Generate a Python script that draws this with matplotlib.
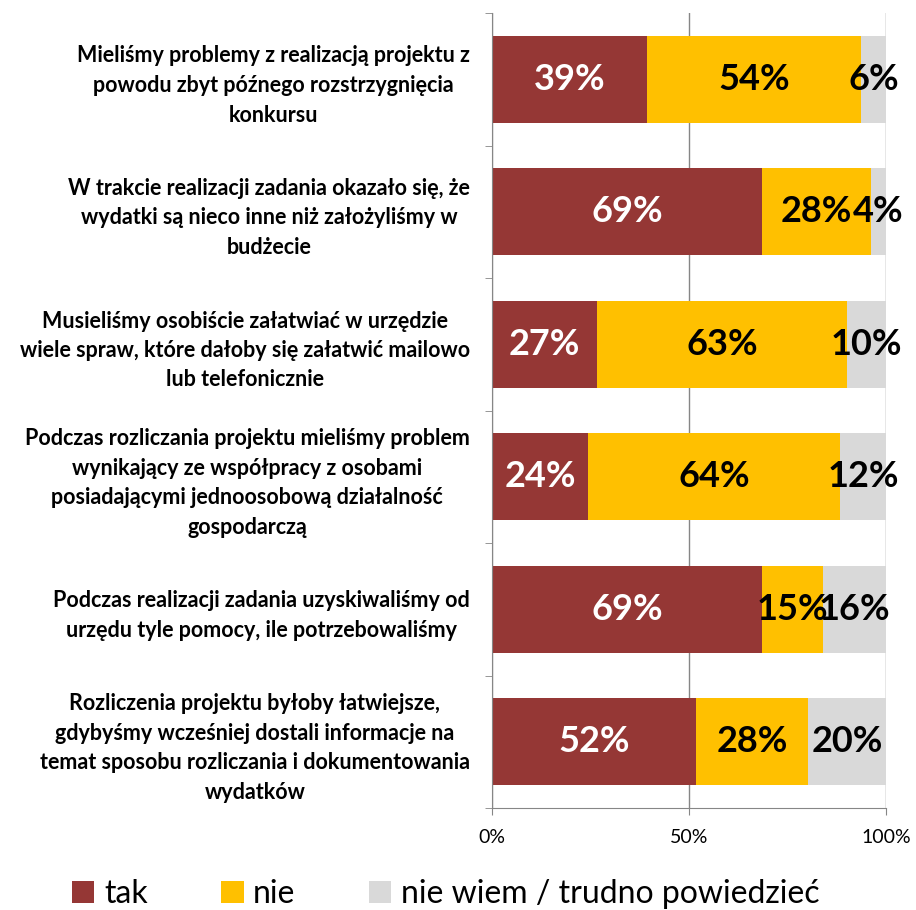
import numpy as np
import matplotlib
matplotlib.use("Agg")
import matplotlib.pyplot as plt

plt.rcParams['font.family'] = ['Lato', 'DejaVu Sans']

categories = [
    "Mieliśmy problemy z realizacją projektu z\npowodu zbyt późnego rozstrzygnięcia\nkonkursu",
    "W trakcie realizacji zadania okazało się, że\nwydatki są nieco inne niż założyliśmy w\nbudżecie",
    "Musieliśmy osobiście załatwiać w urzędzie\nwiele spraw, które dałoby się załatwić mailowo\nlub telefonicznie",
    "Podczas rozliczania projektu mieliśmy problem\nwynikający ze współpracy z osobami\nposiadającymi jednoosobową działalność\ngospodarczą",
    "Podczas realizacji zadania uzyskiwaliśmy od\nurzędu tyle pomocy, ile potrzebowaliśmy",
    "Rozliczenia projektu byłoby łatwiejsze,\ngdybyśmy wcześniej dostali informacje na\ntemat sposobu rozliczania i dokumentowania\nwydatków",
]
tak = [39.3, 68.6, 26.7, 24.4, 68.6, 51.8]
nie = [54.4, 27.5, 63.4, 64.0, 15.4, 28.4]
nie_wiem = [6.3, 3.9, 9.9, 11.6, 16.0, 19.8]
series_names = ["tak", "nie", "nie wiem / trudno powiedzieć"]
colors = ["#953735", "#FFC000", "#D9D9D9"]
text_colors = ["white", "black", "black"]

fig = plt.figure(figsize=(9.16, 9.10), dpi=100)
ax = fig.add_axes([492/916, 1 - 808/910, (886-492)/916, (808-13)/910])
ax.set_axisbelow(True)

y = np.arange(len(categories))
left = np.zeros(len(categories))
handles = []
for vals, name, col, tcol in zip([tak, nie, nie_wiem], series_names, colors, text_colors):
    vals = np.array(vals) / 100
    b = ax.barh(y, vals, left=left, height=0.66, color=col, label=name, zorder=2)
    handles.append(b)
    for yi, l, v in zip(y, left, vals):
        ax.text(l + v / 2, yi, f"{v*100:.0f}%", ha="center", va="center",
                color=tcol, fontsize=26, fontweight="bold", zorder=3)
    left += vals

ax.set_xlim(0, 1)
ax.set_ylim(len(categories) - 0.5, -0.5)
ax.set_xticks([0, 0.5, 1])
ax.set_xticklabels(["0%", "50%", "100%"], fontsize=14)
ax.xaxis.grid(True, color="#868686", linewidth=1)
ax.set_yticks(y)
ax.set_yticklabels(categories, fontsize=15.5, fontweight="bold",
                   multialignment="center", linespacing=1.5)
ax.set_yticks(np.arange(len(categories) + 1) - 0.5, minor=True)
ax.tick_params(axis="y", which="major", length=0, pad=16)
ax.tick_params(axis="y", which="minor", length=5, color="#868686")
ax.tick_params(axis="x", length=5, color="#868686", pad=10)
for s in ["top", "right"]:
    ax.spines[s].set_visible(False)
for s in ["left", "bottom"]:
    ax.spines[s].set_color("#868686")

fig.legend(handles=handles, loc="center left", bbox_to_anchor=(72/916, 1 - 894/910),
           ncol=3, frameon=False, fontsize=23, handlelength=0.7, handleheight=0.7,
           handletextpad=0.3, columnspacing=2.3, borderpad=0, borderaxespad=0)

fig.savefig("out.png", dpi=100)
